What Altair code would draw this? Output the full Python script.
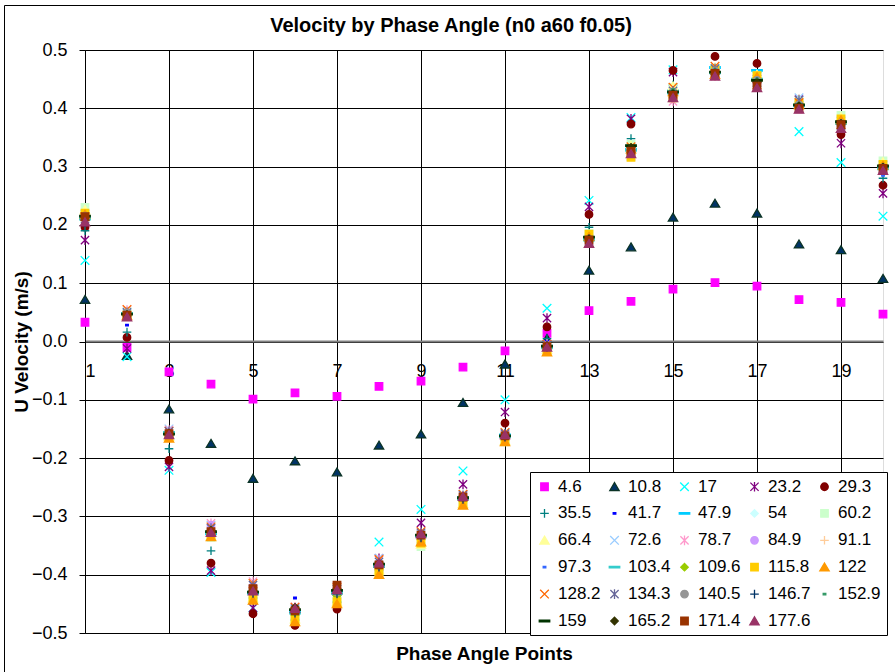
import altair as alt
import pandas as pd

# ---------------- data ----------------
x_points = [1, 2, 3, 4, 5, 6, 7, 8, 9, 10, 11, 12, 13, 14, 15, 16, 17, 18, 19, 20]
x_ticks = [1, 3, 5, 7, 9, 11, 13, 15, 17, 19]
y_ticks = [-0.5, -0.4, -0.3, -0.2, -0.1, 0.0, 0.1, 0.2, 0.3, 0.4, 0.5]

series_names = ["4.6", "10.8", "17", "23.2", "29.3", "35.5", "41.7", "47.9", "54", "60.2",
                "66.4", "72.6", "78.7", "84.9", "91.1", "97.3", "103.4", "109.6", "115.8", "122",
                "128.2", "134.3", "140.5", "146.7", "152.9", "159", "165.2", "171.4", "177.6"]

s4_6 = [0.033, -0.010, -0.052, -0.073, -0.099, -0.088, -0.094, -0.077, -0.068, -0.044, -0.016, 0.014, 0.053, 0.069, 0.090, 0.101, 0.095, 0.072, 0.067, 0.047]
s10_8 = [0.072, -0.024, -0.116, -0.175, -0.235, -0.205, -0.224, -0.178, -0.159, -0.105, -0.039, 0.005, 0.122, 0.162, 0.213, 0.237, 0.220, 0.167, 0.157, 0.108]
s17 = [0.139, -0.026, -0.221, -0.396, -0.457, -0.470, -0.440, -0.344, -0.288, -0.222, -0.100, 0.057, 0.242, 0.384, 0.466, 0.468, 0.455, 0.360, 0.307, 0.215]
s23_2 = [0.174, -0.012, -0.215, -0.393, -0.457, -0.472, -0.442, -0.372, -0.311, -0.245, -0.121, 0.040, 0.231, 0.382, 0.462, 0.465, 0.450, 0.415, 0.340, 0.254]
s29_3 = [0.196, 0.007, -0.204, -0.380, -0.467, -0.487, -0.459, -0.392, -0.332, -0.266, -0.140, 0.025, 0.218, 0.373, 0.465, 0.489, 0.477, 0.410, 0.355, 0.268]
s35_5 = [0.190, 0.016, -0.184, -0.359, -0.440, -0.468, -0.435, -0.386, -0.335, -0.270, -0.158, 0.005, 0.196, 0.348, 0.440, 0.470, 0.452, 0.410, 0.365, 0.280]
s41_7 = [0.200, 0.028, -0.165, -0.340, -0.438, -0.440, -0.432, -0.388, -0.336, -0.272, -0.165, 0.000, 0.185, 0.315, 0.430, 0.465, 0.450, 0.408, 0.378, 0.288]
s47_9 = [0.212, 0.048, -0.157, -0.330, -0.432, -0.462, -0.428, -0.383, -0.333, -0.268, -0.160, -0.008, 0.178, 0.330, 0.430, 0.470, 0.465, 0.405, 0.375, 0.300]
s54 = [0.222, 0.050, -0.162, -0.333, -0.438, -0.470, -0.440, -0.398, -0.345, -0.276, -0.168, -0.012, 0.182, 0.335, 0.433, 0.466, 0.452, 0.410, 0.380, 0.305]
s60_2 = [0.230, 0.052, -0.165, -0.336, -0.442, -0.474, -0.445, -0.395, -0.352, -0.280, -0.172, -0.015, 0.185, 0.338, 0.436, 0.468, 0.455, 0.412, 0.388, 0.310]
s66_4 = [0.226, 0.051, -0.163, -0.334, -0.440, -0.476, -0.447, -0.392, -0.348, -0.278, -0.170, -0.014, 0.183, 0.336, 0.438, 0.470, 0.458, 0.415, 0.385, 0.308]
s72_6 = [0.218, 0.049, -0.150, -0.315, -0.425, -0.460, -0.425, -0.372, -0.330, -0.262, -0.158, -0.006, 0.176, 0.318, 0.420, 0.460, 0.445, 0.418, 0.378, 0.302]
s78_7 = [0.215, 0.054, -0.152, -0.312, -0.412, -0.455, -0.420, -0.375, -0.328, -0.265, -0.160, -0.004, 0.172, 0.322, 0.412, 0.455, 0.440, 0.408, 0.370, 0.295]
s84_9 = [0.214, 0.047, -0.155, -0.315, -0.420, -0.458, -0.424, -0.380, -0.330, -0.266, -0.162, -0.008, 0.174, 0.320, 0.418, 0.458, 0.442, 0.400, 0.368, 0.292]
s91_1 = [0.216, 0.046, -0.158, -0.325, -0.428, -0.464, -0.430, -0.385, -0.336, -0.270, -0.164, -0.010, 0.176, 0.326, 0.424, 0.462, 0.446, 0.404, 0.372, 0.298]
s97_3 = [0.205, 0.044, -0.160, -0.338, -0.436, -0.468, -0.434, -0.388, -0.338, -0.272, -0.166, -0.009, 0.178, 0.325, 0.427, 0.463, 0.448, 0.402, 0.366, 0.285]
s103_4 = [0.210, 0.048, -0.156, -0.328, -0.430, -0.466, -0.432, -0.386, -0.334, -0.270, -0.163, -0.011, 0.174, 0.328, 0.426, 0.461, 0.450, 0.404, 0.374, 0.296]
s109_6 = [0.212, 0.046, -0.159, -0.330, -0.434, -0.470, -0.436, -0.390, -0.340, -0.274, -0.166, -0.013, 0.172, 0.324, 0.422, 0.460, 0.452, 0.402, 0.376, 0.300]
s115_8 = [0.220, 0.045, -0.164, -0.332, -0.440, -0.478, -0.446, -0.396, -0.346, -0.279, -0.170, -0.016, 0.184, 0.316, 0.418, 0.466, 0.456, 0.408, 0.382, 0.304]
s122 = [0.218, 0.044, -0.166, -0.335, -0.444, -0.481, -0.450, -0.400, -0.344, -0.281, -0.172, -0.018, 0.180, 0.330, 0.428, 0.458, 0.454, 0.406, 0.380, 0.302]
s128_2 = [0.214, 0.055, -0.154, -0.318, -0.415, -0.456, -0.422, -0.374, -0.326, -0.262, -0.156, -0.005, 0.170, 0.334, 0.436, 0.472, 0.440, 0.410, 0.372, 0.294]
s134_3 = [0.210, 0.050, -0.154, -0.320, -0.418, -0.458, -0.425, -0.378, -0.328, -0.264, -0.158, -0.006, 0.172, 0.330, 0.430, 0.468, 0.444, 0.414, 0.370, 0.296]
s140_5 = [0.215, 0.049, -0.157, -0.326, -0.428, -0.462, -0.430, -0.384, -0.334, -0.268, -0.162, -0.009, 0.175, 0.327, 0.428, 0.464, 0.448, 0.406, 0.374, 0.298]
s146_7 = [0.208, 0.046, -0.158, -0.328, -0.432, -0.466, -0.433, -0.387, -0.337, -0.271, -0.164, -0.010, 0.176, 0.332, 0.426, 0.462, 0.446, 0.404, 0.372, 0.298]
s152_9 = [0.212, 0.048, -0.158, -0.324, -0.428, -0.462, -0.431, -0.384, -0.333, -0.268, -0.162, -0.009, 0.177, 0.334, 0.432, 0.466, 0.450, 0.408, 0.376, 0.300]
s159 = [0.215, 0.047, -0.159, -0.326, -0.430, -0.460, -0.427, -0.382, -0.332, -0.268, -0.162, -0.008, 0.179, 0.336, 0.428, 0.462, 0.448, 0.406, 0.377, 0.301]
s165_2 = [0.213, 0.046, -0.157, -0.324, -0.427, -0.456, -0.424, -0.380, -0.331, -0.266, -0.161, -0.007, 0.176, 0.333, 0.425, 0.458, 0.444, 0.404, 0.374, 0.299]
s171_4 = [0.214, 0.045, -0.158, -0.326, -0.424, -0.462, -0.418, -0.383, -0.332, -0.267, -0.162, -0.009, 0.174, 0.326, 0.422, 0.460, 0.438, 0.400, 0.372, 0.297]
s177_6 = [0.205, 0.042, -0.160, -0.328, -0.428, -0.458, -0.426, -0.380, -0.330, -0.266, -0.160, -0.010, 0.168, 0.322, 0.418, 0.455, 0.435, 0.398, 0.365, 0.293]

series_values = [s4_6, s10_8, s17, s23_2, s29_3, s35_5, s41_7, s47_9, s54, s60_2,
                 s66_4, s72_6, s78_7, s84_9, s91_1, s97_3, s103_4, s109_6, s115_8, s122,
                 s128_2, s134_3, s140_5, s146_7, s152_9, s159, s165_2, s171_4, s177_6]

# ---------------- styles ----------------
fills = ["#FF00FF", "#003366", "#00FFFF", "#800080", "#800000", "#008080", "#0000FF", "#00CCFF", "#CCFFFF", "#CCFFCC",
         "#FFFF99", "#99CCFF", "#FF99CC", "#CC99FF", "#FFCC99", "#3366FF", "#33CCCC", "#99CC00", "#FFCC00", "#FF9900",
         "#FF6600", "#666699", "#969696", "#003366", "#339966", "#003300", "#333300", "#993300", "#993366"]
strokes = list(fills)
strokes[1] = "#0B3326"

SQ = "square"
TRI = "M0,-1.1L1.25,1L-1.25,1Z"
XX = "M-1.15,-1.15L1.15,1.15M-1.15,1.15L1.15,-1.15"
STAR = "M-1.1,-1.1L1.1,1.1M-1.1,1.1L1.1,-1.1M0,-1.3L0,1.3"
CIR = "circle"
PLUS = "M-1.15,0L1.15,0M0,-1.15L0,1.15"
SDASH = "M-0.35,-0.2L0.35,-0.2L0.35,0.2L-0.35,0.2Z"
LDASH = "M-1.4,-0.2L1.4,-0.2L1.4,0.2L-1.4,0.2Z"
DIA = "diamond"
cycle = [SQ, TRI, XX, STAR, CIR, PLUS, SDASH, LDASH, DIA]
shapes = [cycle[i % 9] for i in range(len(series_names))]

rows = []
for name, vals in zip(series_names, series_values):
    for xv, v in zip(x_points, vals):
        rows.append({"series": name, "x": xv, "u": v})
df = pd.DataFrame(rows)

FONT = "Liberation Sans"

legend = alt.Legend(
    title=None, orient="none", legendX=445, legendY=422, columns=5, direction="horizontal",
    columnPadding=5, rowPadding=8.9, padding=6, gridAlign="all",
    strokeColor="black", fillColor="white",
    labelFont=FONT, labelFontSize=17, labelColor="black", labelOffset=5,
    symbolSize=56, symbolStrokeWidth=1.3, symbolOpacity=1,
)

points = alt.Chart(df).mark_point(filled=True, size=56, strokeWidth=1.3, opacity=1).encode(
    x=alt.X("x:Q",
            scale=alt.Scale(domain=[1, 20], nice=False, zero=False),
            axis=alt.Axis(values=x_ticks, title="Phase Angle Points", offset=-292,
                          grid=True, gridColor="black", gridWidth=1,
                          domainColor="#808080", domainWidth=2,
                          tickColor="black", tickSize=6, labelPadding=15,
                          labelFont=FONT, labelFontSize=18, labelColor="black",
                          titleFont=FONT, titleFontSize=19, titleFontWeight="bold", titleColor="black",
                          titleY=318, titleBaseline="alphabetic")),
    y=alt.Y("u:Q",
            scale=alt.Scale(domain=[-0.5, 0.5], nice=False, zero=False),
            axis=alt.Axis(values=y_ticks, format=".1f", title="U Velocity (m/s)",
                          grid=True, gridColor="black", gridWidth=1,
                          domainColor="black", tickColor="black", tickSize=6, labelPadding=12,
                          labelFont=FONT, labelFontSize=18, labelColor="black",
                          titleFont=FONT, titleFontSize=19, titleFontWeight="bold", titleColor="black",
                          titleX=-64, titleY=291.5, titleAngle=270, titleAlign="center",
                          titleBaseline="middle")),
    fill=alt.Fill("series:N", scale=alt.Scale(domain=series_names, range=fills), legend=legend),
    stroke=alt.Stroke("series:N", scale=alt.Scale(domain=series_names, range=strokes), legend=legend),
    shape=alt.Shape("series:N", scale=alt.Scale(domain=series_names, range=shapes), legend=legend),
)

border = alt.Chart(pd.DataFrame({"a": [0]})).mark_rect(
    fill="transparent", stroke="black", strokeWidth=1, clip=False
).encode(x=alt.value(-80.5), x2=alt.value(830), y=alt.value(-44.5), y2=alt.value(660))

chart = alt.layer(border, points).properties(
    width=798, height=583,
    autosize=alt.AutoSizeParams(type="none"),
    padding={"left": 85, "top": 50, "right": 12, "bottom": 39},
    title=alt.TitleParams("Velocity by Phase Angle (n0 a60 f0.05)", font=FONT, fontSize=20,
                          fontWeight="bold", color="black", anchor="middle", frame="group",
                          baseline="alphabetic", offset=0, dx=-33, dy=47),
).configure_view(stroke="black", strokeWidth=1).configure(background="white")

chart.save("out.html", embed_options={"renderer": "svg", "actions": False})
